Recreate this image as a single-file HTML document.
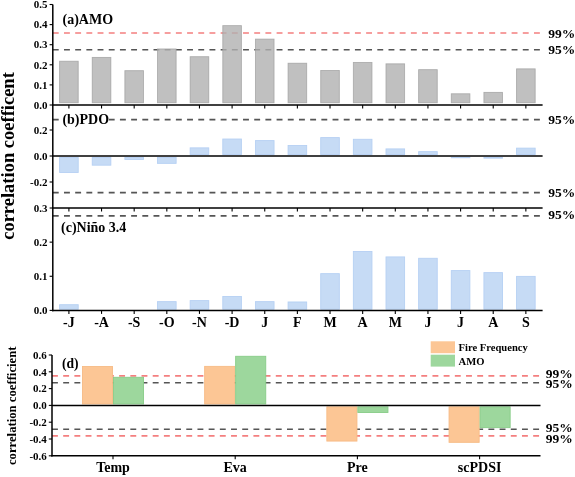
<!DOCTYPE html>
<html><head><meta charset="utf-8"><style>
html,body{margin:0;padding:0;background:#fff;width:575px;height:477px;overflow:hidden}
svg{display:block;will-change:transform}
text{font-family:'Liberation Serif', serif;font-weight:bold;fill:#000}
</style></head><body>
<svg width="575" height="477" viewBox="0 0 575 477">
<rect width="575" height="477" fill="#fff"/>
<line x1="52.8" y1="33.0" x2="540" y2="33.0" stroke="#f47f7f" stroke-width="1.7" stroke-dasharray="5.9 5.29" stroke-dashoffset="0"/>
<line x1="52.8" y1="49.7" x2="540" y2="49.7" stroke="#555555" stroke-width="1.6" stroke-dasharray="5.9 5.29" stroke-dashoffset="0"/>
<line x1="52.8" y1="119.6" x2="540" y2="119.6" stroke="#555555" stroke-width="1.6" stroke-dasharray="5.9 5.29" stroke-dashoffset="0"/>
<line x1="52.8" y1="192.6" x2="540" y2="192.6" stroke="#555555" stroke-width="1.6" stroke-dasharray="5.9 5.29" stroke-dashoffset="0"/>
<line x1="52.8" y1="215.9" x2="540" y2="215.9" stroke="#555555" stroke-width="1.6" stroke-dasharray="5.9 5.29" stroke-dashoffset="0"/>
<rect x="59.60" y="61.23" width="18.60" height="41.52" fill="#b0b0b0" stroke="#a0a0a0" stroke-width="0.9" fill-opacity="0.8" stroke-opacity="0.8"/>
<rect x="92.24" y="57.41" width="18.60" height="45.34" fill="#b0b0b0" stroke="#a0a0a0" stroke-width="0.9" fill-opacity="0.8" stroke-opacity="0.8"/>
<rect x="124.88" y="70.68" width="18.60" height="32.07" fill="#b0b0b0" stroke="#a0a0a0" stroke-width="0.9" fill-opacity="0.8" stroke-opacity="0.8"/>
<rect x="157.52" y="48.97" width="18.60" height="53.78" fill="#b0b0b0" stroke="#a0a0a0" stroke-width="0.9" fill-opacity="0.8" stroke-opacity="0.8"/>
<rect x="190.16" y="56.71" width="18.60" height="46.04" fill="#b0b0b0" stroke="#a0a0a0" stroke-width="0.9" fill-opacity="0.8" stroke-opacity="0.8"/>
<rect x="222.80" y="25.65" width="18.60" height="77.10" fill="#b0b0b0" stroke="#a0a0a0" stroke-width="0.9" fill-opacity="0.8" stroke-opacity="0.8"/>
<rect x="255.44" y="39.12" width="18.60" height="63.63" fill="#b0b0b0" stroke="#a0a0a0" stroke-width="0.9" fill-opacity="0.8" stroke-opacity="0.8"/>
<rect x="288.08" y="63.24" width="18.60" height="39.51" fill="#b0b0b0" stroke="#a0a0a0" stroke-width="0.9" fill-opacity="0.8" stroke-opacity="0.8"/>
<rect x="320.72" y="70.48" width="18.60" height="32.27" fill="#b0b0b0" stroke="#a0a0a0" stroke-width="0.9" fill-opacity="0.8" stroke-opacity="0.8"/>
<rect x="353.36" y="62.44" width="18.60" height="40.31" fill="#b0b0b0" stroke="#a0a0a0" stroke-width="0.9" fill-opacity="0.8" stroke-opacity="0.8"/>
<rect x="386.00" y="63.84" width="18.60" height="38.91" fill="#b0b0b0" stroke="#a0a0a0" stroke-width="0.9" fill-opacity="0.8" stroke-opacity="0.8"/>
<rect x="418.64" y="69.67" width="18.60" height="33.08" fill="#b0b0b0" stroke="#a0a0a0" stroke-width="0.9" fill-opacity="0.8" stroke-opacity="0.8"/>
<rect x="451.28" y="93.79" width="18.60" height="8.96" fill="#b0b0b0" stroke="#a0a0a0" stroke-width="0.9" fill-opacity="0.8" stroke-opacity="0.8"/>
<rect x="483.92" y="92.39" width="18.60" height="10.37" fill="#b0b0b0" stroke="#a0a0a0" stroke-width="0.9" fill-opacity="0.8" stroke-opacity="0.8"/>
<rect x="516.56" y="68.87" width="18.60" height="33.88" fill="#b0b0b0" stroke="#a0a0a0" stroke-width="0.9" fill-opacity="0.8" stroke-opacity="0.8"/>
<rect x="59.60" y="157.45" width="18.60" height="15.00" fill="#c6dbf5" stroke="#b6d0f3" stroke-width="0.9"/>
<rect x="92.24" y="157.45" width="18.60" height="7.72" fill="#c6dbf5" stroke="#b6d0f3" stroke-width="0.9"/>
<rect x="124.88" y="157.45" width="18.60" height="2.00" fill="#c6dbf5" stroke="#b6d0f3" stroke-width="0.9"/>
<rect x="157.52" y="157.45" width="18.60" height="5.90" fill="#c6dbf5" stroke="#b6d0f3" stroke-width="0.9"/>
<rect x="190.16" y="147.87" width="18.60" height="6.68" fill="#c6dbf5" stroke="#b6d0f3" stroke-width="0.9"/>
<rect x="222.80" y="139.03" width="18.60" height="15.52" fill="#c6dbf5" stroke="#b6d0f3" stroke-width="0.9"/>
<rect x="255.44" y="140.59" width="18.60" height="13.96" fill="#c6dbf5" stroke="#b6d0f3" stroke-width="0.9"/>
<rect x="288.08" y="145.53" width="18.60" height="9.02" fill="#c6dbf5" stroke="#b6d0f3" stroke-width="0.9"/>
<rect x="320.72" y="137.60" width="18.60" height="16.95" fill="#c6dbf5" stroke="#b6d0f3" stroke-width="0.9"/>
<rect x="353.36" y="139.29" width="18.60" height="15.26" fill="#c6dbf5" stroke="#b6d0f3" stroke-width="0.9"/>
<rect x="386.00" y="148.91" width="18.60" height="5.64" fill="#c6dbf5" stroke="#b6d0f3" stroke-width="0.9"/>
<rect x="418.64" y="151.64" width="18.60" height="2.91" fill="#c6dbf5" stroke="#b6d0f3" stroke-width="0.9"/>
<rect x="451.28" y="157.45" width="18.60" height="0.31" fill="#c6dbf5" stroke="#b6d0f3" stroke-width="0.9"/>
<rect x="483.92" y="157.45" width="18.60" height="0.70" fill="#c6dbf5" stroke="#b6d0f3" stroke-width="0.9"/>
<rect x="516.56" y="148.13" width="18.60" height="6.42" fill="#c6dbf5" stroke="#b6d0f3" stroke-width="0.9"/>
<rect x="59.60" y="304.71" width="18.60" height="4.54" fill="#c6dbf5" stroke="#b6d0f3" stroke-width="0.9"/>
<rect x="157.52" y="301.63" width="18.60" height="7.62" fill="#c6dbf5" stroke="#b6d0f3" stroke-width="0.9"/>
<rect x="190.16" y="300.61" width="18.60" height="8.64" fill="#c6dbf5" stroke="#b6d0f3" stroke-width="0.9"/>
<rect x="222.80" y="296.52" width="18.60" height="12.73" fill="#c6dbf5" stroke="#b6d0f3" stroke-width="0.9"/>
<rect x="255.44" y="301.63" width="18.60" height="7.62" fill="#c6dbf5" stroke="#b6d0f3" stroke-width="0.9"/>
<rect x="288.08" y="301.98" width="18.60" height="7.27" fill="#c6dbf5" stroke="#b6d0f3" stroke-width="0.9"/>
<rect x="320.72" y="273.65" width="18.60" height="35.60" fill="#c6dbf5" stroke="#b6d0f3" stroke-width="0.9"/>
<rect x="353.36" y="251.46" width="18.60" height="57.79" fill="#c6dbf5" stroke="#b6d0f3" stroke-width="0.9"/>
<rect x="386.00" y="256.92" width="18.60" height="52.33" fill="#c6dbf5" stroke="#b6d0f3" stroke-width="0.9"/>
<rect x="418.64" y="258.29" width="18.60" height="50.96" fill="#c6dbf5" stroke="#b6d0f3" stroke-width="0.9"/>
<rect x="451.28" y="270.58" width="18.60" height="38.67" fill="#c6dbf5" stroke="#b6d0f3" stroke-width="0.9"/>
<rect x="483.92" y="272.62" width="18.60" height="36.63" fill="#c6dbf5" stroke="#b6d0f3" stroke-width="0.9"/>
<rect x="516.56" y="276.38" width="18.60" height="32.87" fill="#c6dbf5" stroke="#b6d0f3" stroke-width="0.9"/>
<line x1="52.8" y1="4.5" x2="52.8" y2="311.2" stroke="#000" stroke-width="1.5"/>
<line x1="52.0" y1="105.0" x2="542.6" y2="105.0" stroke="#000" stroke-width="1.5"/>
<line x1="52.8" y1="156.0" x2="542.6" y2="156.0" stroke="#000" stroke-width="1.5"/>
<line x1="52.0" y1="208.0" x2="542.6" y2="208.0" stroke="#000" stroke-width="1.5"/>
<line x1="52.0" y1="310.4" x2="542.6" y2="310.4" stroke="#000" stroke-width="1.5"/>
<line x1="49.599999999999994" y1="105.0" x2="52.8" y2="105.0" stroke="#000" stroke-width="1.1"/>
<text x="47.5" y="108.7" font-size="11" text-anchor="end" >0.0</text>
<line x1="49.599999999999994" y1="84.9" x2="52.8" y2="84.9" stroke="#000" stroke-width="1.1"/>
<text x="47.5" y="88.60000000000001" font-size="11" text-anchor="end" >0.1</text>
<line x1="49.599999999999994" y1="64.8" x2="52.8" y2="64.8" stroke="#000" stroke-width="1.1"/>
<text x="47.5" y="68.5" font-size="11" text-anchor="end" >0.2</text>
<line x1="49.599999999999994" y1="44.7" x2="52.8" y2="44.7" stroke="#000" stroke-width="1.1"/>
<text x="47.5" y="48.400000000000006" font-size="11" text-anchor="end" >0.3</text>
<line x1="49.599999999999994" y1="24.599999999999994" x2="52.8" y2="24.599999999999994" stroke="#000" stroke-width="1.1"/>
<text x="47.5" y="28.299999999999994" font-size="11" text-anchor="end" >0.4</text>
<line x1="49.599999999999994" y1="4.5" x2="52.8" y2="4.5" stroke="#000" stroke-width="1.1"/>
<text x="47.5" y="8.2" font-size="11" text-anchor="end" >0.5</text>
<line x1="49.599999999999994" y1="130.0" x2="52.8" y2="130.0" stroke="#000" stroke-width="1.1"/>
<text x="47.5" y="133.7" font-size="11" text-anchor="end" >0.2</text>
<line x1="49.599999999999994" y1="156.0" x2="52.8" y2="156.0" stroke="#000" stroke-width="1.1"/>
<text x="47.5" y="159.7" font-size="11" text-anchor="end" >0.0</text>
<line x1="49.599999999999994" y1="182.0" x2="52.8" y2="182.0" stroke="#000" stroke-width="1.1"/>
<text x="47.5" y="185.7" font-size="11" text-anchor="end" >-0.2</text>
<line x1="49.599999999999994" y1="310.4" x2="52.8" y2="310.4" stroke="#000" stroke-width="1.1"/>
<text x="47.5" y="314.09999999999997" font-size="11" text-anchor="end" >0.0</text>
<line x1="49.599999999999994" y1="276.27" x2="52.8" y2="276.27" stroke="#000" stroke-width="1.1"/>
<text x="47.5" y="279.96999999999997" font-size="11" text-anchor="end" >0.1</text>
<line x1="49.599999999999994" y1="242.14" x2="52.8" y2="242.14" stroke="#000" stroke-width="1.1"/>
<text x="47.5" y="245.83999999999997" font-size="11" text-anchor="end" >0.2</text>
<line x1="49.599999999999994" y1="208.01" x2="52.8" y2="208.01" stroke="#000" stroke-width="1.1"/>
<text x="47.5" y="211.70999999999998" font-size="11" text-anchor="end" >0.3</text>
<line x1="68.9" y1="105.0" x2="68.9" y2="108.5" stroke="#000" stroke-width="1.1"/>
<line x1="101.54" y1="105.0" x2="101.54" y2="108.5" stroke="#000" stroke-width="1.1"/>
<line x1="134.18" y1="105.0" x2="134.18" y2="108.5" stroke="#000" stroke-width="1.1"/>
<line x1="166.82" y1="105.0" x2="166.82" y2="108.5" stroke="#000" stroke-width="1.1"/>
<line x1="199.46" y1="105.0" x2="199.46" y2="108.5" stroke="#000" stroke-width="1.1"/>
<line x1="232.1" y1="105.0" x2="232.1" y2="108.5" stroke="#000" stroke-width="1.1"/>
<line x1="264.74" y1="105.0" x2="264.74" y2="108.5" stroke="#000" stroke-width="1.1"/>
<line x1="297.38" y1="105.0" x2="297.38" y2="108.5" stroke="#000" stroke-width="1.1"/>
<line x1="330.02" y1="105.0" x2="330.02" y2="108.5" stroke="#000" stroke-width="1.1"/>
<line x1="362.65999999999997" y1="105.0" x2="362.65999999999997" y2="108.5" stroke="#000" stroke-width="1.1"/>
<line x1="395.29999999999995" y1="105.0" x2="395.29999999999995" y2="108.5" stroke="#000" stroke-width="1.1"/>
<line x1="427.94000000000005" y1="105.0" x2="427.94000000000005" y2="108.5" stroke="#000" stroke-width="1.1"/>
<line x1="460.58000000000004" y1="105.0" x2="460.58000000000004" y2="108.5" stroke="#000" stroke-width="1.1"/>
<line x1="493.22" y1="105.0" x2="493.22" y2="108.5" stroke="#000" stroke-width="1.1"/>
<line x1="525.86" y1="105.0" x2="525.86" y2="108.5" stroke="#000" stroke-width="1.1"/>
<line x1="68.9" y1="208.0" x2="68.9" y2="211.5" stroke="#000" stroke-width="1.1"/>
<line x1="101.54" y1="208.0" x2="101.54" y2="211.5" stroke="#000" stroke-width="1.1"/>
<line x1="134.18" y1="208.0" x2="134.18" y2="211.5" stroke="#000" stroke-width="1.1"/>
<line x1="166.82" y1="208.0" x2="166.82" y2="211.5" stroke="#000" stroke-width="1.1"/>
<line x1="199.46" y1="208.0" x2="199.46" y2="211.5" stroke="#000" stroke-width="1.1"/>
<line x1="232.1" y1="208.0" x2="232.1" y2="211.5" stroke="#000" stroke-width="1.1"/>
<line x1="264.74" y1="208.0" x2="264.74" y2="211.5" stroke="#000" stroke-width="1.1"/>
<line x1="297.38" y1="208.0" x2="297.38" y2="211.5" stroke="#000" stroke-width="1.1"/>
<line x1="330.02" y1="208.0" x2="330.02" y2="211.5" stroke="#000" stroke-width="1.1"/>
<line x1="362.65999999999997" y1="208.0" x2="362.65999999999997" y2="211.5" stroke="#000" stroke-width="1.1"/>
<line x1="395.29999999999995" y1="208.0" x2="395.29999999999995" y2="211.5" stroke="#000" stroke-width="1.1"/>
<line x1="427.94000000000005" y1="208.0" x2="427.94000000000005" y2="211.5" stroke="#000" stroke-width="1.1"/>
<line x1="460.58000000000004" y1="208.0" x2="460.58000000000004" y2="211.5" stroke="#000" stroke-width="1.1"/>
<line x1="493.22" y1="208.0" x2="493.22" y2="211.5" stroke="#000" stroke-width="1.1"/>
<line x1="525.86" y1="208.0" x2="525.86" y2="211.5" stroke="#000" stroke-width="1.1"/>
<line x1="68.9" y1="310.4" x2="68.9" y2="313.9" stroke="#000" stroke-width="1.1"/>
<line x1="101.54" y1="310.4" x2="101.54" y2="313.9" stroke="#000" stroke-width="1.1"/>
<line x1="134.18" y1="310.4" x2="134.18" y2="313.9" stroke="#000" stroke-width="1.1"/>
<line x1="166.82" y1="310.4" x2="166.82" y2="313.9" stroke="#000" stroke-width="1.1"/>
<line x1="199.46" y1="310.4" x2="199.46" y2="313.9" stroke="#000" stroke-width="1.1"/>
<line x1="232.1" y1="310.4" x2="232.1" y2="313.9" stroke="#000" stroke-width="1.1"/>
<line x1="264.74" y1="310.4" x2="264.74" y2="313.9" stroke="#000" stroke-width="1.1"/>
<line x1="297.38" y1="310.4" x2="297.38" y2="313.9" stroke="#000" stroke-width="1.1"/>
<line x1="330.02" y1="310.4" x2="330.02" y2="313.9" stroke="#000" stroke-width="1.1"/>
<line x1="362.65999999999997" y1="310.4" x2="362.65999999999997" y2="313.9" stroke="#000" stroke-width="1.1"/>
<line x1="395.29999999999995" y1="310.4" x2="395.29999999999995" y2="313.9" stroke="#000" stroke-width="1.1"/>
<line x1="427.94000000000005" y1="310.4" x2="427.94000000000005" y2="313.9" stroke="#000" stroke-width="1.1"/>
<line x1="460.58000000000004" y1="310.4" x2="460.58000000000004" y2="313.9" stroke="#000" stroke-width="1.1"/>
<line x1="493.22" y1="310.4" x2="493.22" y2="313.9" stroke="#000" stroke-width="1.1"/>
<line x1="525.86" y1="310.4" x2="525.86" y2="313.9" stroke="#000" stroke-width="1.1"/>
<text x="68.9" y="327.0" font-size="14" text-anchor="middle" >-J</text>
<text x="101.54" y="327.0" font-size="14" text-anchor="middle" >-A</text>
<text x="134.18" y="327.0" font-size="14" text-anchor="middle" >-S</text>
<text x="166.82" y="327.0" font-size="14" text-anchor="middle" >-O</text>
<text x="199.46" y="327.0" font-size="14" text-anchor="middle" >-N</text>
<text x="232.1" y="327.0" font-size="14" text-anchor="middle" >-D</text>
<text x="264.74" y="327.0" font-size="14" text-anchor="middle" >J</text>
<text x="297.38" y="327.0" font-size="14" text-anchor="middle" >F</text>
<text x="330.02" y="327.0" font-size="14" text-anchor="middle" >M</text>
<text x="362.65999999999997" y="327.0" font-size="14" text-anchor="middle" >A</text>
<text x="395.29999999999995" y="327.0" font-size="14" text-anchor="middle" >M</text>
<text x="427.94000000000005" y="327.0" font-size="14" text-anchor="middle" >J</text>
<text x="460.58000000000004" y="327.0" font-size="14" text-anchor="middle" >J</text>
<text x="493.22" y="327.0" font-size="14" text-anchor="middle" >A</text>
<text x="525.86" y="327.0" font-size="14" text-anchor="middle" >S</text>
<text x="62.5" y="23.9" font-size="14" text-anchor="start" >(a)AMO</text>
<rect x="61" y="113" width="48" height="14" fill="#fff"/>
<text x="62.4" y="123.8" font-size="14" text-anchor="start" >(b)PDO</text>
<text x="61" y="232" font-size="14" text-anchor="start" >(c)Ni&#241;o 3.4</text>
<text x="548.2" y="37.6" font-size="13.5" text-anchor="start" >99%</text>
<text x="548.2" y="53.5" font-size="13.5" text-anchor="start" >95%</text>
<text x="548.2" y="123.6" font-size="13.5" text-anchor="start" >95%</text>
<text x="548.2" y="196.6" font-size="13.5" text-anchor="start" >95%</text>
<text x="548.2" y="219.2" font-size="13.5" text-anchor="start" >95%</text>
<line x1="52" y1="375.9" x2="540" y2="375.9" stroke="#f47f7f" stroke-width="1.7" stroke-dasharray="5.9 5.29" stroke-dashoffset="0"/>
<line x1="52" y1="382.8" x2="540" y2="382.8" stroke="#555555" stroke-width="1.6" stroke-dasharray="5.9 5.29" stroke-dashoffset="0"/>
<line x1="52" y1="429.2" x2="540" y2="429.2" stroke="#555555" stroke-width="1.6" stroke-dasharray="5.9 5.29" stroke-dashoffset="0"/>
<line x1="52" y1="435.9" x2="540" y2="435.9" stroke="#f47f7f" stroke-width="1.7" stroke-dasharray="5.9 5.29" stroke-dashoffset="0"/>
<rect x="82.45" y="366.54" width="30.10" height="37.41" fill="#fcc695" stroke="#f7bb85" stroke-width="0.9"/>
<rect x="113.45" y="377.29" width="30.10" height="26.66" fill="#9dd79d" stroke="#88cc88" stroke-width="0.9"/>
<rect x="204.65" y="366.37" width="30.10" height="37.58" fill="#fcc695" stroke="#f7bb85" stroke-width="0.9"/>
<rect x="235.65" y="356.29" width="30.10" height="47.66" fill="#9dd79d" stroke="#88cc88" stroke-width="0.9"/>
<rect x="326.85" y="406.85" width="30.10" height="34.22" fill="#fcc695" stroke="#f7bb85" stroke-width="0.9"/>
<rect x="357.85" y="406.85" width="30.10" height="5.66" fill="#9dd79d" stroke="#88cc88" stroke-width="0.9"/>
<rect x="449.05" y="406.85" width="30.10" height="35.48" fill="#fcc695" stroke="#f7bb85" stroke-width="0.9"/>
<rect x="480.05" y="406.85" width="30.10" height="20.78" fill="#9dd79d" stroke="#88cc88" stroke-width="0.9"/>
<line x1="52.0" y1="355.0" x2="52.0" y2="456.59999999999997" stroke="#000" stroke-width="1.5"/>
<line x1="52.0" y1="405.4" x2="540.5" y2="405.4" stroke="#000" stroke-width="1.5"/>
<line x1="51.2" y1="455.79999999999995" x2="540.5" y2="455.79999999999995" stroke="#000" stroke-width="1.5"/>
<line x1="48.8" y1="355.0" x2="52.0" y2="355.0" stroke="#000" stroke-width="1.1"/>
<text x="46.8" y="358.7" font-size="11" text-anchor="end" >0.6</text>
<line x1="48.8" y1="371.79999999999995" x2="52.0" y2="371.79999999999995" stroke="#000" stroke-width="1.1"/>
<text x="46.8" y="375.49999999999994" font-size="11" text-anchor="end" >0.4</text>
<line x1="48.8" y1="388.59999999999997" x2="52.0" y2="388.59999999999997" stroke="#000" stroke-width="1.1"/>
<text x="46.8" y="392.29999999999995" font-size="11" text-anchor="end" >0.2</text>
<line x1="48.8" y1="405.4" x2="52.0" y2="405.4" stroke="#000" stroke-width="1.1"/>
<text x="46.8" y="409.09999999999997" font-size="11" text-anchor="end" >0.0</text>
<line x1="48.8" y1="422.2" x2="52.0" y2="422.2" stroke="#000" stroke-width="1.1"/>
<text x="46.8" y="425.9" font-size="11" text-anchor="end" >-0.2</text>
<line x1="48.8" y1="439.0" x2="52.0" y2="439.0" stroke="#000" stroke-width="1.1"/>
<text x="46.8" y="442.7" font-size="11" text-anchor="end" >-0.4</text>
<line x1="48.8" y1="455.79999999999995" x2="52.0" y2="455.79999999999995" stroke="#000" stroke-width="1.1"/>
<text x="46.8" y="459.49999999999994" font-size="11" text-anchor="end" >-0.6</text>
<line x1="113.0" y1="455.79999999999995" x2="113.0" y2="459.29999999999995" stroke="#000" stroke-width="1.1"/>
<text x="113.0" y="472.0" font-size="14" text-anchor="middle" >Temp</text>
<line x1="235.2" y1="455.79999999999995" x2="235.2" y2="459.29999999999995" stroke="#000" stroke-width="1.1"/>
<text x="235.2" y="472.0" font-size="14" text-anchor="middle" >Eva</text>
<line x1="357.4" y1="455.79999999999995" x2="357.4" y2="459.29999999999995" stroke="#000" stroke-width="1.1"/>
<text x="357.4" y="472.0" font-size="14" text-anchor="middle" >Pre</text>
<line x1="479.6" y1="455.79999999999995" x2="479.6" y2="459.29999999999995" stroke="#000" stroke-width="1.1"/>
<text x="479.6" y="472.0" font-size="14" text-anchor="middle" >scPDSI</text>
<text x="62" y="368.3" font-size="13.6" text-anchor="start" >(d)</text>
<rect x="430.7" y="341.3" width="24.3" height="11.9" fill="#fcc695"/>
<rect x="430.7" y="354.7" width="24.3" height="11.9" fill="#9dd79d"/>
<text x="458.5" y="351" font-size="10.6" text-anchor="start" >Fire Frequency</text>
<text x="458.5" y="364.7" font-size="10.6" text-anchor="start" >AMO</text>
<text x="545.8" y="377.6" font-size="13.5" text-anchor="start" >99%</text>
<text x="545.8" y="387.7" font-size="13.5" text-anchor="start" >95%</text>
<text x="545.8" y="432.1" font-size="13.5" text-anchor="start" >95%</text>
<text x="545.8" y="443.4" font-size="13.5" text-anchor="start" >99%</text>
<text x="0" y="0" font-size="18.5" text-anchor="middle" transform="translate(14.3,156) rotate(-90)">correlation coefficent</text>
<text x="0" y="0" font-size="12.7" text-anchor="middle" transform="translate(15.8,405.8) rotate(-90)">correlation coefficient</text>
</svg>
</body></html>
